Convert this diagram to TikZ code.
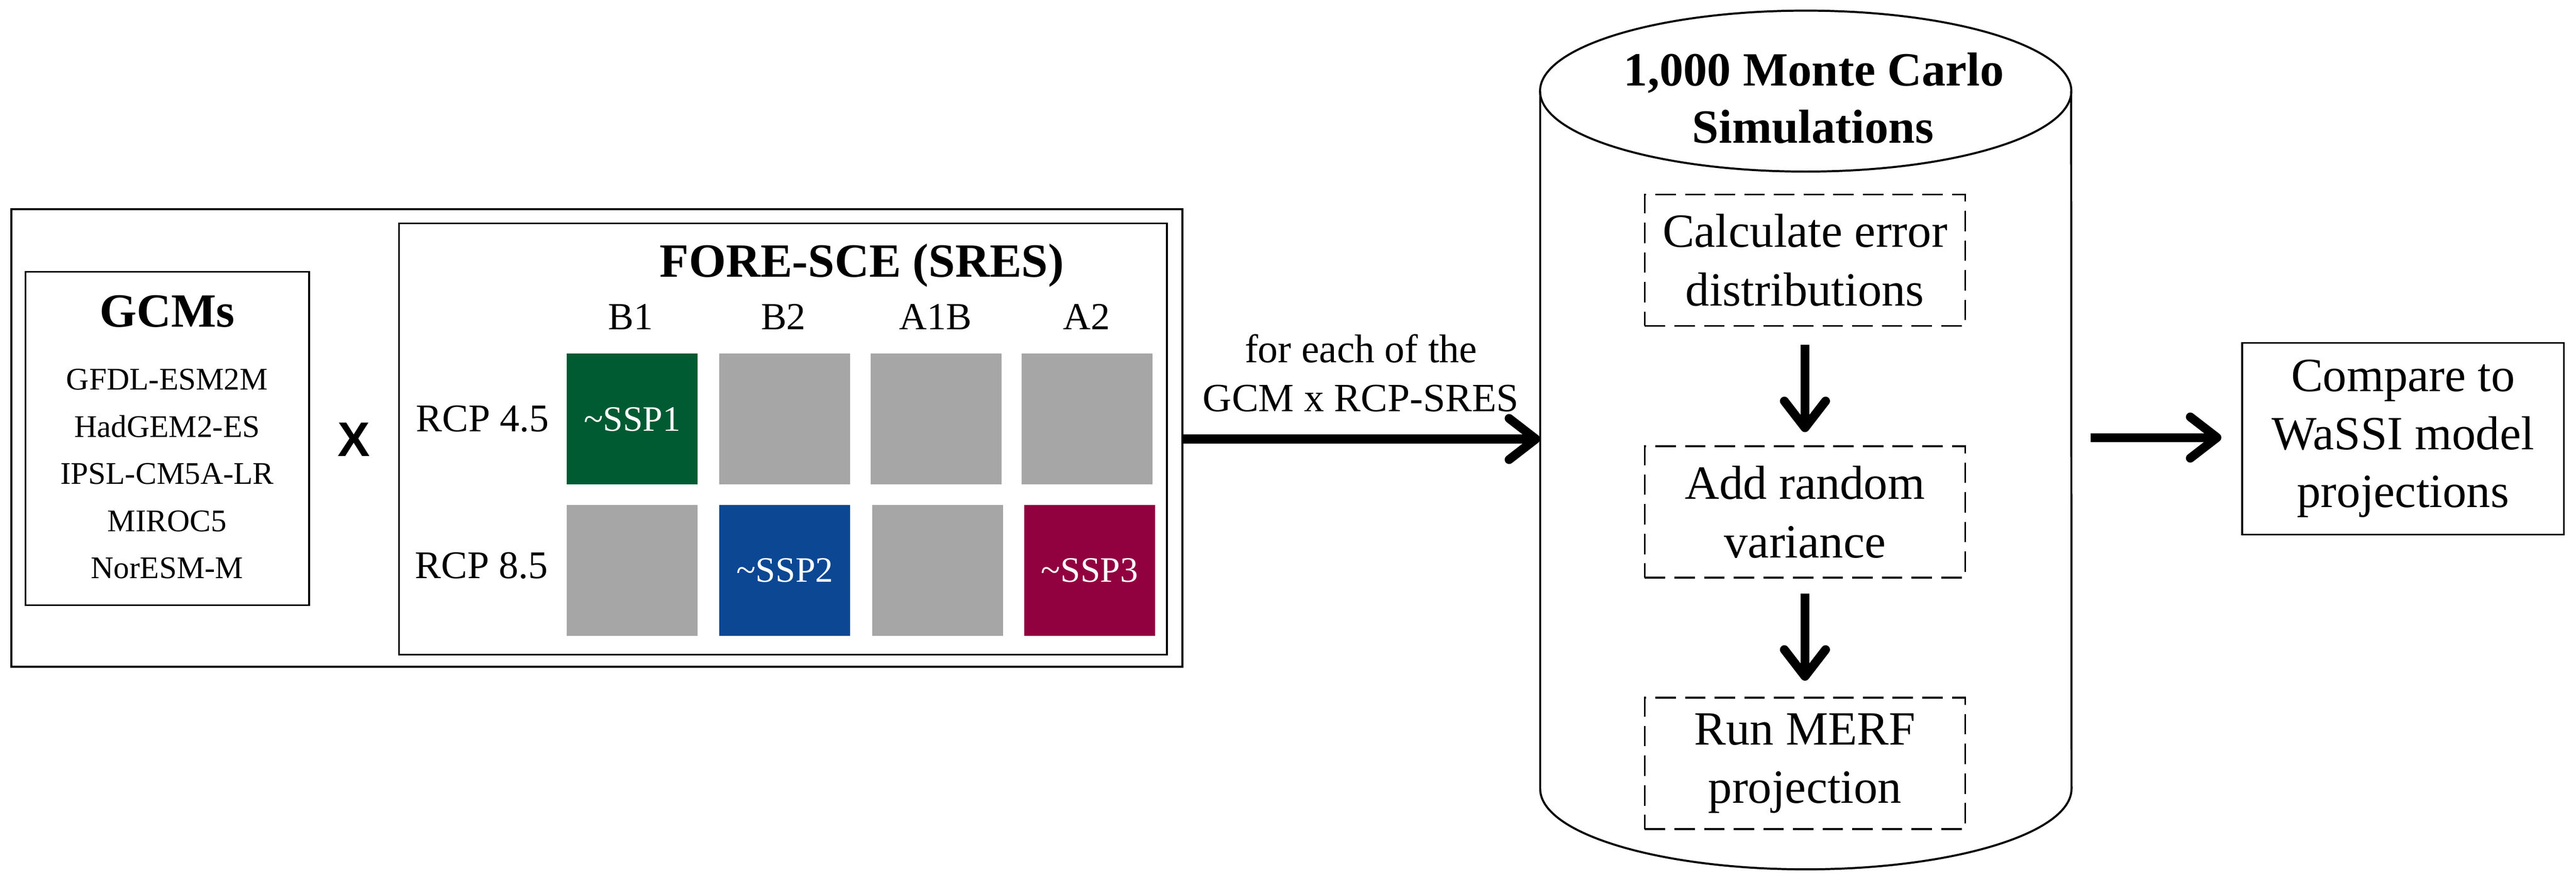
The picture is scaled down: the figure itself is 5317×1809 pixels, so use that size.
\documentclass[tikz,border=0pt]{standalone}
\usepackage{fontspec}
\setmainfont{Liberation Serif}
\newfontfamily\sansx{Liberation Sans}
\usetikzlibrary{arrows.meta}
\definecolor{sspgreen}{HTML}{005A32}
\definecolor{sspblue}{HTML}{0B4793}
\definecolor{sspred}{HTML}{91003F}
\definecolor{cellgray}{HTML}{A6A6A6}
\tikzset{
  framebox/.style={draw, line width=1pt, inner sep=0pt},
  txt/.style={inner sep=0pt, anchor=base},
  fbig/.style={font=\fontsize{28}{34}\selectfont},
  fbigb/.style={font=\fontsize{28}{34}\selectfont\bfseries},
  fsmall/.style={font=\fontsize{18.5}{22}\selectfont},
  fmid/.style={font=\fontsize{22.5}{27}\selectfont},
  cell/.style={inner sep=0pt, minimum width=2.70cm, minimum height=2.70cm, fill=cellgray},
  ssp/.style={text=white, font=\fontsize{21}{25}\selectfont},
  dashbox/.style={draw, line width=1.15pt, dash pattern=on 12pt off 5.4pt, inner sep=0pt,
    minimum width=6.61cm, minimum height=2.71cm, align=center, font=\fontsize{28}{34.4}\selectfont},
  bigarrow/.style={line width=5.2pt, -{Straight Barb[length=0.55cm,width=0.85cm,round]}}
}
\begin{document}
\begin{tikzpicture}[x=0.01cm,y=-0.01cm]
\useasboundingbox (0,0) rectangle (5317,1809);

% outer frame
\node[draw, line width=1.3pt, inner sep=0pt, minimum width=24.16cm, minimum height=9.44cm] (outer) at (1232,904) {};
% GCMs box
\node[framebox, minimum width=5.85cm, minimum height=6.88cm] (gcmbox) at (345.5,905) {};
\node[txt, fbigb] (gcmtitle) at (345,675) {GCMs};
\node[txt, fsmall] (g1) at (345,804) {GFDL-ESM2M};
\node[txt, fsmall] (g2) at (345,902) {HadGEM2-ES};
\node[txt, fsmall] (g3) at (345,999) {IPSL-CM5A-LR};
\node[txt, fsmall] (g4) at (345,1097) {MIROC5};
\node[txt, fsmall] (g5) at (345,1194) {NorESM-M};
% times sign
\node[txt, font=\fontsize{28.5}{34}\sansx\bfseries] (times) at (731,942) {X};
% FORE-SCE box
\node[framebox, minimum width=15.84cm, minimum height=8.90cm] (forebox) at (1616,906) {};
\node[txt, fbigb] (foretitle) at (1779,572) {FORE-SCE (SRES)};
\node[txt, fmid] (cB1) at (1302,680) {B1};
\node[txt, fmid] (cB2) at (1617,680) {B2};
\node[txt, fmid] (cA1B) at (1931,680) {A1B};
\node[txt, fmid] (cA2) at (2243,680) {A2};
\node[txt, font=\fontsize{23}{27}\selectfont] (r45) at (996,891) {RCP 4.5};
\node[txt, font=\fontsize{23}{27}\selectfont] (r85) at (994,1194) {RCP 8.5};
% cells
\node[cell, fill=sspgreen, ssp] (c11) at (1305,865) {\textasciitilde SSP1};
\node[cell] (c12) at (1620,865) {};
\node[cell] (c13) at (1932,865) {};
\node[cell] (c14) at (2244,865) {};
\node[cell] (c21) at (1305,1177) {};
\node[cell, fill=sspblue, ssp] (c22) at (1620,1177) {\textasciitilde SSP2};
\node[cell] (c23) at (1935,1177) {};
\node[cell, fill=sspred, ssp] (c24) at (2249,1177) {\textasciitilde SSP3};

% cylinder
\draw[line width=1.2pt] (3179,188) -- (3179,1628)
  arc[start angle=180, end angle=360, x radius=5.48cm, y radius=1.66cm] -- (4275,188);
\draw[line width=1.2pt] (3727,188) ellipse [x radius=5.48cm, y radius=1.66cm];
\coordinate (cylL) at (3179,906);
\coordinate (cylR) at (4275,903);
\node[txt, fbigb] (mc1) at (3744,177) {1,000 Monte Carlo};
\node[txt, fbigb] (mc2) at (3742,295) {Simulations};
\node[dashbox] (b1) at (3725.5,537) {Calculate error\\distributions};
\node[dashbox] (b2) at (3725.5,1056.5) {Add random\\variance};
\node[dashbox] (b3) at (3725.5,1575.5) {Run MERF\\projection};

% compare box
\node[framebox, minimum width=6.64cm, minimum height=3.95cm, align=center,
  font=\fontsize{28}{34}\selectfont] (cmp) at (4960,905.5) {Compare to\\WaSSI model\\projections};

% label of main arrow
\node[txt, font=\fontsize{23.5}{28}\selectfont] (lab1) at (2809,748) {for each of the};
\node[txt, font=\fontsize{23.5}{28}\selectfont] (lab2) at (2809,849) {GCM x RCP-SRES};

% connectors
\draw[bigarrow] (outer.east |- cylL) -- (cylL);
\draw[bigarrow] ([xshift=0.4cm]cylR) -- ([xshift=-0.41cm]cmp.west |- cylR);
\draw[bigarrow, shorten <=0.37cm, shorten >=0.27cm] (b1.south) -- (b2.north);
\draw[bigarrow, shorten <=0.31cm, shorten >=0.33cm] (b2.south) -- (b3.north);
\end{tikzpicture}
\end{document}
